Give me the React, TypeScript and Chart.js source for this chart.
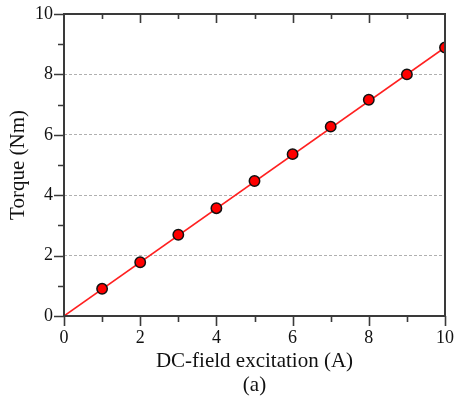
import React, { useEffect, useRef } from "react";
import { Chart, registerables } from "chart.js";

Chart.register(...registerables);

// Measured torque against DC-field excitation current
const excitation = [1, 2, 3, 4, 5, 6, 7, 8, 9, 10];
const torque = [0.9, 1.78, 2.69, 3.57, 4.47, 5.36, 6.27, 7.16, 8.0, 8.89];
// Linear fit through the origin
const fitX = [0, 10];
const fitY = [0, 8.89];

const xTicks = [0, 2, 4, 6, 8, 10];
const yTicks = [0, 2, 4, 6, 8, 10];

const SERIF = "'Liberation Serif', 'Times New Roman', serif";
const AXIS_COLOR = "#3a3a3a";

// Draws the plot frame plus major/minor tick marks (outward on left/bottom, inward on top)
const framePlugin = {
  id: "frameTicks",
  afterDatasetsDraw(chart: any) {
    const { ctx, chartArea, scales } = chart;
    const x = scales.x;
    const y = scales.y;
    ctx.save();
    ctx.strokeStyle = AXIS_COLOR;
    ctx.lineWidth = 2;
    ctx.strokeRect(chartArea.left, chartArea.top, chartArea.right - chartArea.left, chartArea.bottom - chartArea.top);
    ctx.lineWidth = 1.6;
    ctx.beginPath();
    for (let v = 0; v <= 10; v += 1) {
      const major = v % 2 === 0;
      const len = major ? 10 : 6;
      const px = Math.round(x.getPixelForValue(v)) + 0.5;
      // bottom, outward
      ctx.moveTo(px, chartArea.bottom);
      ctx.lineTo(px, chartArea.bottom + len);
      // top, inward
      if (v > 0 && v < 10) {
        ctx.moveTo(px, chartArea.top);
        ctx.lineTo(px, chartArea.top + (major ? 9 : 5));
      }
      const py = Math.round(y.getPixelForValue(v)) + 0.5;
      // left, outward
      ctx.moveTo(chartArea.left, py);
      ctx.lineTo(chartArea.left - len, py);
    }
    ctx.stroke();
    ctx.restore();
  },
};

export default function App() {
  const ref = useRef<HTMLCanvasElement | null>(null);

  useEffect(() => {
    document.body.style.margin = "0";
    const canvas = ref.current;
    if (!canvas) return;
    const chart = new Chart(canvas, {
      type: "scatter",
      data: {
        datasets: [
          {
            label: "Measured",
            data: excitation.map((v, i) => ({ x: v, y: torque[i] })),
            backgroundColor: "#ff0000",
            borderColor: "#111111",
            borderWidth: 1.5,
            pointRadius: 5.2,
            order: 0,
          },
          {
            label: "Fit",
            type: "line",
            data: fitX.map((v, i) => ({ x: v, y: fitY[i] })),
            borderColor: "#ff2020",
            borderWidth: 1.6,
            pointRadius: 0,
            fill: false,
            order: 1,
          } as any,
        ],
      },
      options: {
        responsive: false,
        animation: false,
        layout: { padding: { top: 14, right: 12, left: 0, bottom: 0 } },
        plugins: {
          legend: { display: false },
          tooltip: { enabled: false },
        },
        scales: {
          x: {
            type: "linear",
            min: 0,
            max: 10,
            afterBuildTicks: (s: any) => {
              s.ticks = xTicks.map((v) => ({ value: v }));
            },
            afterFit: (s: any) => {
              s.height = 82;
              s.paddingLeft = 0;
              s.paddingRight = 0;
            },
            grid: { display: false, drawTicks: false },
            border: { display: false },
            ticks: {
              color: "#111",
              padding: 11,
              maxRotation: 0,
              font: { family: SERIF, size: 18 },
            },
            title: {
              display: true,
              text: ["DC-field excitation (A)", "(a)"],
              color: "#111",
              font: { family: SERIF, size: 21, lineHeight: 1.15 },
              padding: { top: 0, bottom: 0 },
            },
          },
          y: {
            type: "linear",
            min: 0,
            max: 10,
            afterBuildTicks: (s: any) => {
              s.ticks = yTicks.map((v) => ({ value: v }));
            },
            afterFit: (s: any) => {
              s.width = 64;
              s.paddingTop = 0;
              s.paddingBottom = 0;
            },
            grid: {
              drawTicks: false,
              lineWidth: 1,
              color: (c: any) =>
                c.tick && (c.tick.value === 0 || c.tick.value === 10) ? "rgba(0,0,0,0)" : "#b0b0b0",
            },
            border: { display: false, dash: [3, 2] },
            ticks: {
              color: "#111",
              padding: 11,
              font: { family: SERIF, size: 18 },
            },
            title: {
              display: true,
              text: "Torque (Nm)",
              color: "#111",
              font: { family: SERIF, size: 21, lineHeight: 1.2 },
              padding: { top: 6, bottom: 0 },
            },
          },
        },
      },
      plugins: [framePlugin],
    });
    return () => chart.destroy();
  }, []);

  return (
    <div style={{ width: 457, height: 398 }}>
      <canvas ref={ref} width={457} height={398} style={{ display: "block" }} />
    </div>
  );
}
